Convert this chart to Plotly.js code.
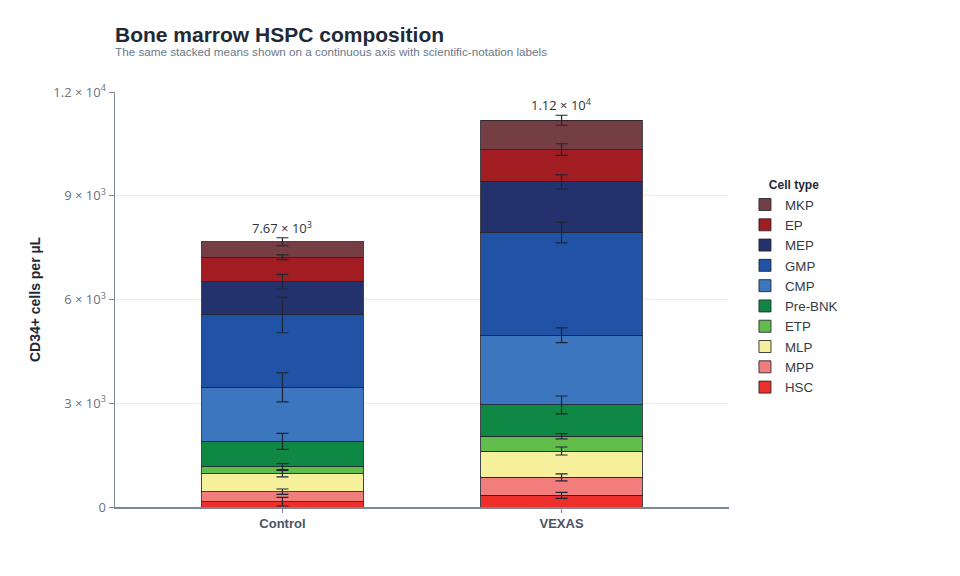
<!DOCTYPE html>
<html>
<head>
<meta charset="utf-8">
<script src="https://cdn.plot.ly/plotly-3.0.1.min.js"></script>
<style>
  html, body { margin: 0; padding: 0; background: #fff; }
  #chart { width: 960px; height: 576px; }
</style>
</head>
<body>
<div id="chart"></div>
<script>
// groups on the x axis (placed at 0 and 1 on a linear axis)
var groups = ["Control", "VEXAS"];
var groupPos = [0, 1];

// cell types, bottom of the stack first
var cellTypes = ["HSC", "MPP", "MLP", "ETP", "Pre-BNK", "CMP", "GMP", "MEP", "EP", "MKP"];
var colors = ["#ec2f2b", "#f17e7c", "#f6f09c", "#63bd4b", "#0f8843", "#3b76bf", "#2053a6", "#23326d", "#a21d22", "#753e43"];

// mean cells per uL for each cell type, [Control, VEXAS]
var hsc    = [154, 338];
var mpp    = [290, 520];
var mlp    = [519, 761];
var etp    = [203, 425];
var preBnk = [733, 906];
var cmp    = [1561, 2016];
var gmp    = [2093, 2968];
var mep    = [963, 1465];
var ep     = [705, 935];
var mkp    = [449, 849];

// error (sem) for each cell type, [Control, VEXAS]
var hscErr    = [125, 87];
var mppErr    = [77, 101];
var mlpErr    = [92, 116];
var etpErr    = [87, 77];
var preBnkErr = [231, 260];
var cmpErr    = [420, 212];
var gmpErr    = [515, 299];
var mepErr    = [212, 207];
var epErr     = [67, 169];
var mkpErr    = [116, 145];

var yTickVals = [0, 3000, 6000, 9000, 12000];
var yTickText = ["0", "3 × 10<sup>3</sup>", "6 × 10<sup>3</sup>", "9 × 10<sup>3</sup>", "1.2 × 10<sup>4</sup>"];

var values = [hsc, mpp, mlp, etp, preBnk, cmp, gmp, mep, ep, mkp];
var errors = [hscErr, mppErr, mlpErr, etpErr, preBnkErr, cmpErr, gmpErr, mepErr, epErr, mkpErr];

function sciLabel(v){
    var parts = v.toExponential(2).split("e");
    return parts[0] + " × 10<sup>" + parseInt(parts[1]) + "</sup>";
}

var data = [];
for(let i = 0; i < cellTypes.length; i++){
    data.push({
        type: "bar",
        name: cellTypes[i],
        x: groupPos,
        y: values[i],
        width: 0.58,
        marker: {color: colors[i], line: {color: "rgba(35,35,45,0.85)", width: 1}}
    });
}

// error bars drawn on top of the whole stack, at the top of each segment
var running = [0, 0];
for(let i = 0; i < cellTypes.length; i++){
    running = [running[0] + values[i][0], running[1] + values[i][1]];
    data.push({
        type: "scatter",
        mode: "markers",
        x: groupPos,
        y: running.slice(),
        marker: {size: 1, opacity: 0},
        showlegend: false,
        hoverinfo: "skip",
        error_y: {type: "data", array: errors[i], visible: true, color: "#1e2635", thickness: 1.2, width: 6}
    });
}

var totals = running;

var annotations = [];
for(let g = 0; g < groups.length; g++){
    annotations.push({
        x: groupPos[g], y: totals[g] + errors[errors.length - 1][g],
        xref: "x", yref: "y",
        text: sciLabel(totals[g]),
        showarrow: false, yanchor: "bottom", yshift: -1,
        font: {family: "Open Sans, sans-serif", size: 13, color: "#2d3440"}
    });
}
// subtitle under the title
annotations.push({
    xref: "paper", yref: "paper", x: 0, xanchor: "left", xshift: -2,
    y: (507 - 52) / 415, yanchor: "middle",
    text: "The same stacked means shown on a continuous axis with scientific-notation labels",
    showarrow: false,
    font: {family: "Liberation Sans, Arial, sans-serif", size: 11.7, color: "#6b778a"}
});

var layout = {
    width: 960, height: 576,
    margin: {l: 115, r: 231, t: 92, b: 69},
    paper_bgcolor: "#ffffff",
    plot_bgcolor: "#ffffff",
    barmode: "stack",
    title: {
        text: "<b>Bone marrow HSPC composition</b>",
        xref: "container", x: 115 / 960, xanchor: "left",
        yref: "container", y: 0.953, yanchor: "top",
        font: {family: "Liberation Sans, Arial, sans-serif", size: 21, color: "#1f2937"}
    },
    xaxis: {
        type: "linear",
        range: [-0.6, 1.6],
        tickvals: groupPos,
        ticktext: groups.map(function(g){ return "<b>" + g + "</b>"; }),
        tickfont: {family: "Liberation Sans, Arial, sans-serif", size: 13, color: "#4a5363"},
        ticks: "outside", ticklen: 4, tickcolor: "#7d8896",
        showline: true, linecolor: "#7d8896", linewidth: 1.5,
        showgrid: false, zeroline: false
    },
    yaxis: {
        range: [0, 12000],
        tickvals: yTickVals,
        ticktext: yTickText,
        tickfont: {family: "Open Sans, sans-serif", size: 13, color: "#6b7280"},
        ticks: "outside", ticklen: 5, tickcolor: "#7d8896",
        showline: true, linecolor: "#7d8896", linewidth: 1.5,
        gridcolor: "#e8ebf0", gridwidth: 1,
        zeroline: false,
        title: {
            text: "<b>CD34+ cells per µL</b>",
            standoff: 9,
            font: {family: "Liberation Sans, Arial, sans-serif", size: 14, color: "#1f2937"}
        }
    },
    legend: {
        x: 1.026, xanchor: "left",
        y: 0.803, yanchor: "top",
        traceorder: "reversed",
        title: {text: "<b>Cell type</b>", side: "top center", font: {family: "Liberation Sans, Arial, sans-serif", size: 12, color: "#1f2937"}},
        font: {family: "Liberation Sans, Arial, sans-serif", size: 13.3, color: "#333a45"},
        bgcolor: "rgba(0,0,0,0)"
    },
    annotations: annotations,
    showlegend: true
};

Plotly.newPlot("chart", data, layout, {displayModeBar: false, staticPlot: true});
</script>
</body>
</html>
